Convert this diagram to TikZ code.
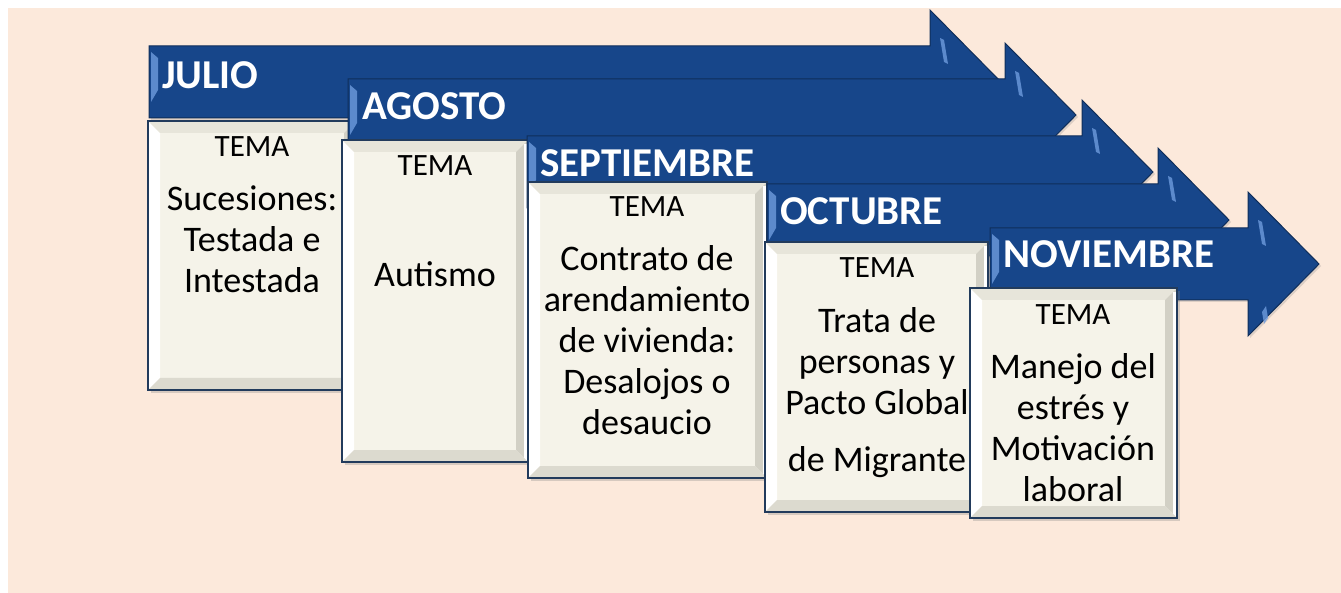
\documentclass[tikz,border=0pt]{standalone}
\usepackage{fontspec}
\setmainfont{Carlito}
\usetikzlibrary{shadows, calc}
\definecolor{fondo}{HTML}{FCE9DB}
\definecolor{azul}{HTML}{17468A}
\definecolor{azulborde}{HTML}{0F2E5A}
\definecolor{azulluz}{HTML}{6E9BDD}
\definecolor{crema}{HTML}{F5F3E9}
\definecolor{marco}{HTML}{223B5C}
\definecolor{biselsup}{HTML}{E7E5DA}
\definecolor{biselder}{HTML}{D2D0C5}
\definecolor{biselinf}{HTML}{DCDACF}

\tikzset{
  flecha/.style={fill=azul, draw=azulborde, line width=1pt,
    drop shadow={shadow xshift=2pt, shadow yshift=-2pt, opacity=.25}},
  luz/.style={fill=azulluz, opacity=.8},
  mes/.style={anchor=base west, inner sep=0pt, text=white,
    font=\fontsize{41}{49}\selectfont\bfseries},
  caja/.style={draw=marco, line width=1.6pt, fill=crema, inner sep=0pt,
    drop shadow={shadow xshift=3pt, shadow yshift=-3pt, opacity=.3},
    path picture={
      \fill[white] (path picture bounding box.north west) -- (path picture bounding box.south west)
        -- ([shift={(12pt,12pt)}]path picture bounding box.south west)
        -- ([shift={(12pt,-12pt)}]path picture bounding box.north west) -- cycle;
      \fill[biselsup] (path picture bounding box.north west) -- (path picture bounding box.north east)
        -- ([shift={(-12pt,-12pt)}]path picture bounding box.north east)
        -- ([shift={(12pt,-12pt)}]path picture bounding box.north west) -- cycle;
      \fill[biselder] (path picture bounding box.north east) -- (path picture bounding box.south east)
        -- ([shift={(-12pt,12pt)}]path picture bounding box.south east)
        -- ([shift={(-12pt,-12pt)}]path picture bounding box.north east) -- cycle;
      \fill[white] ([shift={(-4pt,-4pt)}]path picture bounding box.north east) rectangle (path picture bounding box.south east);
      \fill[biselinf] (path picture bounding box.south west) -- (path picture bounding box.south east)
        -- ([shift={(-12pt,12pt)}]path picture bounding box.south east)
        -- ([shift={(12pt,12pt)}]path picture bounding box.south west) -- cycle;
    }},
  tema/.style={anchor=base, inner sep=0pt, font=\fontsize{31}{37}\selectfont},
  texto/.style={anchor=north, inner sep=0pt, align=center, font=\fontsize{36}{41}\selectfont}
}

\begin{document}
\begin{tikzpicture}[x=1pt, y=-1pt]
  \useasboundingbox (0,0) rectangle (1341,593);
  \fill[white] (0,0) rectangle (1341,593);
  \fill[fondo] (8,8) rectangle (1341,593);

  \draw[flecha] (149,46) -- (930,46) -- (930,10) -- (1001,82) -- (930,154) -- (930,118) -- (149,118) -- cycle;
  \fill[luz] (151,52) -- (158,58) -- (158,90) -- (151,102) -- cycle;
  \fill[luz] (940,38) -- (944,40) -- (948,64) -- (944,62) -- cycle;
  \node[mes] (jul) at (162,89) {JULIO};
  \node[caja, minimum width=208pt, minimum height=269pt] (cjul) at (252,255.5) {};
  \node[tema] (tjul) at (252,157) {TEMA};
  \node[texto] (xjul) at (252,181.3) {\strut Sucesiones:\\Testada e\\Intestada};

  \draw[flecha] (348,79) -- (1005,79) -- (1005,43) -- (1076,115) -- (1005,187) -- (1005,151) -- (348,151) -- cycle;
  \fill[luz] (350,85) -- (357,91) -- (357,123) -- (350,135) -- cycle;
  \fill[luz] (1015,71) -- (1019,73) -- (1023,97) -- (1019,95) -- cycle;
  \node[mes] (ago) at (362,120) {AGOSTO};
  \node[caja, minimum width=186pt, minimum height=322pt] (cago) at (435,301) {};
  \node[tema] (tago) at (435,176) {TEMA};
  \node[texto] (xago) at (435,257.3) {\strut Autismo};

  \draw[flecha] (527,136) -- (1082,136) -- (1082,100) -- (1153,172) -- (1082,244) -- (1082,208) -- (527,208) -- cycle;
  \fill[luz] (529,142) -- (536,148) -- (536,180) -- (529,192) -- cycle;
  \fill[luz] (1092,128) -- (1096,130) -- (1100,154) -- (1096,152) -- cycle;
  \node[mes] (sep) at (540,177) {SEPTIEMBRE};
  \node[caja, minimum width=239pt, minimum height=296pt] (csep) at (647.5,330) {};
  \node[tema] (tsep) at (647,217) {TEMA};
  \node[texto] (xsep) at (647,241.3) {\strut Contrato de\\arendamiento\\de vivienda:\\Desalojos o\\desaucio};

  \draw[flecha] (767,184) -- (1158,184) -- (1158,148) -- (1229,220) -- (1158,292) -- (1158,256) -- (767,256) -- cycle;
  \fill[luz] (769,190) -- (776,196) -- (776,228) -- (769,240) -- cycle;
  \fill[luz] (1168,176) -- (1172,178) -- (1176,202) -- (1172,200) -- cycle;
  \node[mes] (oct) at (780,225) {OCTUBRE};
  \node[caja, minimum width=223pt, minimum height=270pt] (coct) at (876.5,377) {};
  \node[tema] (toct) at (877,278) {TEMA};
  \node[texto] (xoct) at (877,303.3) {\strut Trata de\\personas y\\Pacto Global\\[16pt]de Migrante};

  \draw[flecha] (990,228) -- (1248,228) -- (1248,192) -- (1319,264) -- (1248,336) -- (1248,300) -- (990,300) -- cycle;
  \fill[luz] (992,234) -- (999,240) -- (999,272) -- (992,284) -- cycle;
  \fill[luz] (1258,220) -- (1262,222) -- (1266,246) -- (1262,244) -- cycle;
  \fill[luz] (1262,312) -- (1266,306) -- (1268,318) -- (1264,324) -- cycle;
  \node[mes] (nov) at (1003,268) {NOVIEMBRE};
  \node[caja, minimum width=207pt, minimum height=230pt] (cnov) at (1073.5,403) {};
  \node[tema] (tnov) at (1073,325) {TEMA};
  \node[texto] (xnov) at (1073,349.3) {\strut Manejo del\\estrés y\\Motivación\\laboral};
\end{tikzpicture}
\end{document}
